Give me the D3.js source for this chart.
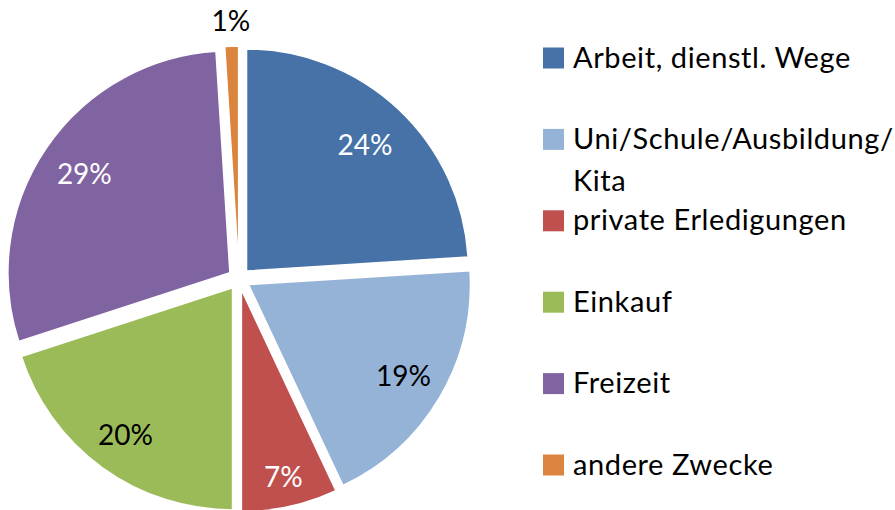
<!DOCTYPE html>
<html>
<head>
<meta charset="utf-8">
<script src="https://cdn.jsdelivr.net/npm/d3@7"></script>
<style>
  body { margin: 0; background: #fff; }
</style>
</head>
<body>
<div id="canvas"></div>
<script>
var categories = ['Arbeit, dienstl. Wege', 'Uni/Schule/Ausbildung/Kita', 'private Erledigungen', 'Einkauf', 'Freizeit', 'andere Zwecke'];
var values = [24, 19, 7, 20, 29, 1];
var labels = ['24%', '19%', '7%', '20%', '29%', '1%'];

var palette = ['#4672A8', '#95B3D7', '#C0504D', '#9BBB59', '#8064A2', '#DB843D'];
var labelColors = ['#fff', '#000', '#fff', '#000', '#fff', '#000'];
// distance of each label from its slice's tip (last one sits outside)
var labelRadii = [173, 180, 192, 182, 176, 247];

var width = 895, height = 510;
var radius = 222, explode = 11;
var font = 'Lato, Carlito, Calibri, sans-serif';

var color = d3.scaleOrdinal()
    .domain(categories)
    .range(palette);

var svg = d3.select('#canvas').append('svg')
    .attr('width', width)
    .attr('height', height);

var group = svg.append('g')
    .attr('transform', 'translate(239, 279)');

var pie = d3.pie()
    .sort(null)
    .value(function(d) { return d; });

var arc = d3.arc()
    .innerRadius(0)
    .outerRadius(radius);

function offset(d) {
    var a = (d.startAngle + d.endAngle) / 2;
    return [Math.sin(a) * explode, -Math.cos(a) * explode];
}

var arcs = group.selectAll('.arc')
    .data(pie(values))
    .enter()
    .append('g')
    .attr('class', 'arc')
    .attr('transform', function(d) {
        return 'translate(' + offset(d) + ')';
    });

arcs.append('path')
    .attr('d', arc)
    .attr('fill', function(d, i) { return color(categories[i]); })
    .attr('stroke', '#fff')
    .attr('stroke-width', 1.5);

arcs.append('text')
    .attr('transform', function(d, i) {
        var r = labelRadii[i];
        var c = d3.arc().innerRadius(r).outerRadius(r).centroid(d);
        return 'translate(' + c + ')';
    })
    .attr('text-anchor', 'middle')
    .attr('dy', '0.35em')
    .attr('font-size', '28px')
    .attr('font-family', font)
    .attr('fill', function(d, i) { return labelColors[i]; })
    .text(function(d, i) { return labels[i]; });

// legend
var legendX = 543, legendTop = 58, legendStep = 81.4, maxW = 330;

var legend = svg.append('g');

var items = legend.selectAll('.item')
    .data(categories)
    .enter()
    .append('g')
    .attr('class', 'item')
    .attr('transform', function(d, i) {
        return 'translate(' + legendX + ',' + (legendTop + i * legendStep) + ')';
    });

items.append('rect')
    .attr('x', 0)
    .attr('y', -10.5)
    .attr('width', 21)
    .attr('height', 21)
    .attr('fill', function(d) { return color(d); });

items.append('text')
    .attr('x', 30)
    .attr('y', 9.5)
    .attr('font-size', '29px')
    .attr('letter-spacing', '0.6px')
    .attr('font-family', font)
    .attr('fill', '#000')
    .each(function(d) {
        var text = d3.select(this);
        var parts = d.split(/(?<=\/)/);
        var line = '';
        var tspan = text.append('tspan').attr('x', 30);
        parts.forEach(function(p) {
            var test = line + p;
            tspan.text(test);
            if (tspan.node().getComputedTextLength() > maxW && line) {
                tspan.text(line);
                line = p;
                tspan = text.append('tspan').attr('x', 30).attr('dy', 42).text(p);
            } else {
                line = test;
            }
        });
    });
</script>
</body>
</html>
